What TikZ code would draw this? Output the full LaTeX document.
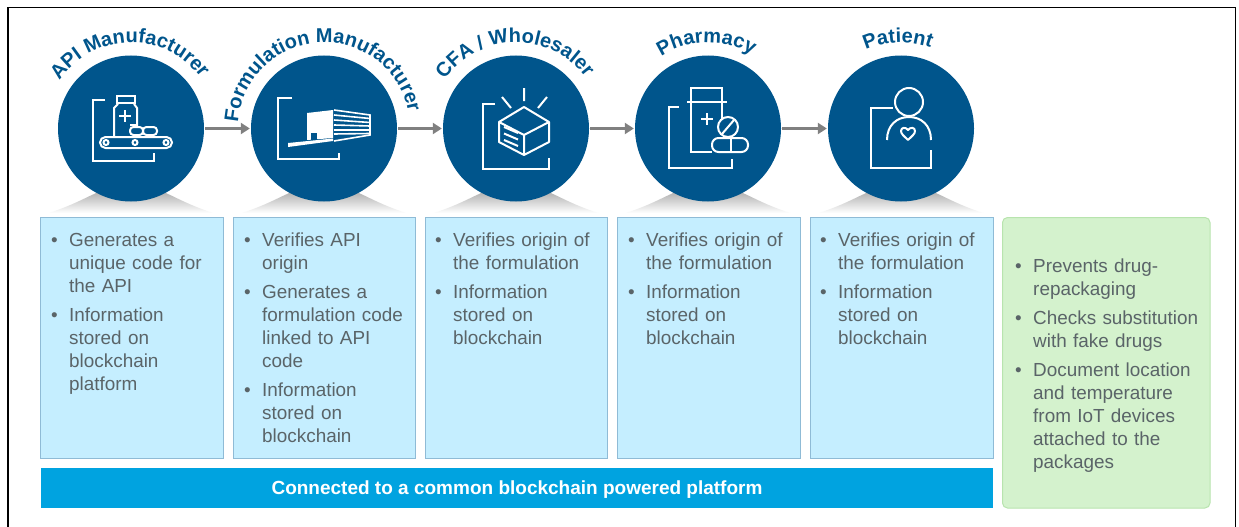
\documentclass[tikz,border=0pt]{standalone}
\usepackage{fontspec}
\setmainfont{Liberation Sans}
\usetikzlibrary{decorations.text,arrows.meta,calc}
\definecolor{navy}{HTML}{00558C}
\definecolor{boxfill}{HTML}{C5EEFF}
\definecolor{boxline}{HTML}{8FBBD6}
\definecolor{greenfill}{HTML}{D4F2CD}
\definecolor{greenline}{HTML}{B8E4AE}
\definecolor{barfill}{HTML}{00A3E0}
\definecolor{bodytext}{HTML}{5A6468}
\definecolor{arrowgray}{HTML}{808080}
\newcommand{\bitem}[1]{\par\noindent\hangindent=18pt\hangafter=1\hbox to 18pt{\textbullet\hfil}#1\par}
\newcommand{\curved}[3]{\path[decorate,decoration={text along path,text align=center,
  text={|\bfseries\fontsize{20}{20}\selectfont\color{navy}|#3}}]
  ($(#1)+(180+#2:86)$) arc[start angle=180+#2,end angle=360+#2,radius=86];}
\tikzset{
  x=1pt,y=-1pt,
  stage/.style={circle,fill=navy,minimum size=146pt,inner sep=0pt},
  flow/.style={draw=arrowgray,line width=3pt,-{Triangle[length=9pt,width=11pt]},shorten >=1pt,shorten <=1pt},
  infobox/.style={draw=boxline,fill=boxfill,line width=1pt},
  txt/.style={anchor=north west,inner sep=0pt,text=bodytext,font=\fontsize{18.9}{23}\selectfont,align=left},
  ico/.style={draw=white,line width=2pt,line join=miter},
}
\begin{document}
\begin{tikzpicture}
\useasboundingbox (0,0) rectangle (1239,527);
\fill[white] (0,0) rectangle (1239,527);
\draw[black,line width=1.6pt] (8,527) -- (8,7.5) -- (1235.5,7.5) -- (1235.5,527);
% shadows
\foreach \cx in {131,324,516,708,901}{
  \shade[top color=black!32,bottom color=white]
    (\cx-82,213) .. controls (\cx-55,204) and (\cx-45,197) .. (\cx-30,191)
    -- (\cx+30,191) .. controls (\cx+45,197) and (\cx+55,204) .. (\cx+82,213) -- cycle;
}
% circles
\node[stage] (c1) at (131,128.5) {};
\node[stage] (c2) at (324,128.5) {};
\node[stage] (c3) at (516,128.5) {};
\node[stage] (c4) at (708,128.5) {};
\node[stage] (c5) at (901,128.5) {};
\foreach \a/\b in {c1/c2,c2/c3,c3/c4,c4/c5}{ \draw[flow] (\a) -- (\b); }
% labels
\curved{c1}{-1}{API Manufacturer}
\curved{c2}{-3.5}{Formulation Manufacturer}
\curved{c3}{-1}{CFA / Wholesaler}
\curved{c4}{-1}{Pharmacy}
\curved{c5}{-2}{Patient}
% boxes
\filldraw[infobox] (40.5,217.5) rectangle (223,458) coordinate (b1);
\filldraw[infobox] (233,217.5) rectangle (415.5,458) coordinate (b2);
\filldraw[infobox] (425,217.5) rectangle (607.5,458) coordinate (b3);
\filldraw[infobox] (617.5,217.5) rectangle (800,458) coordinate (b4);
\filldraw[infobox] (810,217.5) rectangle (993,458) coordinate (b5);
\filldraw[draw=greenline,fill=greenfill,line width=1pt,rounded corners=5pt] (1002.5,217.5) rectangle (1210,508);
\node[fill=barfill,minimum width=952pt,minimum height=40pt,inner sep=0pt,text=white,font=\bfseries\fontsize{19}{20}\selectfont] (bar) at (517,488) {\raisebox{-6.5pt}[0pt][0pt]{Connected to a common blockchain powered platform}};
% body text
\node[txt,text width=170pt] (t1) at (51,217) {\parskip=6pt
\bitem{Generates a\newline unique code for\newline the API}
\bitem{Information\newline stored on\newline blockchain\newline platform}};
\node[txt,text width=170pt] (t2) at (244,217) {\parskip=6pt
\bitem{Verifies API\newline origin}
\bitem{Generates a\newline formulation code\newline linked to API\newline code}
\bitem{Information\newline stored on\newline blockchain}};
\node[txt,text width=170pt] (t3) at (435,217) {\parskip=6pt
\bitem{Verifies origin of\newline the formulation}
\bitem{Information\newline stored on\newline blockchain}};
\node[txt,text width=170pt] (t4) at (628,217) {\parskip=6pt
\bitem{Verifies origin of\newline the formulation}
\bitem{Information\newline stored on\newline blockchain}};
\node[txt,text width=170pt] (t5) at (820,217) {\parskip=6pt
\bitem{Verifies origin of\newline the formulation}
\bitem{Information\newline stored on\newline blockchain}};
\node[txt,text width=190pt] (t6) at (1015,243) {\parskip=6pt
\bitem{Prevents drug-\newline repackaging}
\bitem{Checks substitution\newline with fake drugs}
\bitem{Document location\newline and temperature\newline from IoT devices\newline attached to the\newline packages}};
% icon 1
\draw[ico] (105,100) -- (93,100) -- (93,161) -- (154,161) -- (154,153);
\draw[ico] (117,96) rectangle (135,103);
\draw[ico] (130,125) -- (137,125) -- (137,108) -- (134,104) (118,104) -- (114,108) -- (114,136);
\draw[ico] (125,110) -- (125,122) (119,116) -- (131,116);
\draw[ico,rounded corners=3.5pt] (130,127) rectangle (143,135);
\draw[ico,rounded corners=3.5pt] (143,127) rectangle (157,135);
\draw[ico,rounded corners=5.5pt] (100,137) rectangle (172,148);
\foreach \x in {106,135,166}{ \draw[ico] (\x,142.5) circle[radius=2.5pt]; }
% icon 2
\draw[ico] (292,98) -- (278,98) -- (278,159) -- (339,159) -- (339,153);
\fill[white] (307,113) -- (333,110) -- (333,138) -- (307,140) -- cycle;
\fill[navy] (311,133) rectangle (317,141);
\fill[white] (288,143) -- (333,138.5) -- (333,141) -- (288,147) -- cycle;
\draw[white,line width=1.6pt] (334,110) -- (370,115) -- (370,135) -- (334,141);
\foreach \a/\b in {115/118.5,120/122.5,125/126,130/130,134/133.5}{
  \draw[white,line width=1.6pt] (334,\a) -- (370,\b);
}
% icon 3
\draw[ico] (495,104) -- (483,104) -- (483,169) -- (549,169) -- (549,158);
\draw[ico,line join=round] (524,107) -- (549,122) -- (549,142) -- (524,155) -- (499,142) -- (499,122) -- cycle;
\draw[ico] (499,122) -- (524,135) -- (549,122) (524,135) -- (524,155);
\draw[ico] (524,88) -- (524,101) (502,97) -- (511,108) (547,97) -- (538,108);
\draw[ico] (504,127) -- (518,133) (504,133.5) -- (518,139.5) (504,140) -- (518,146);
% icon 4
\draw[ico] (679,107) -- (669,107) -- (669,168) -- (732,168) -- (732,159);
\draw[ico] (691,102) -- (691,88) -- (722,88) -- (722,102);
\draw[ico] (687,102) -- (727,102);
\draw[ico] (691,102) -- (691,152) -- (712,152) (722,102) -- (722,120);
\draw[ico] (707,113) -- (707,125) (701,119) -- (713,119);
\draw[ico] (728,127) circle[radius=10pt];
\draw[ico] (722,134) -- (734,120);
\draw[ico,rounded corners=6.5pt] (712,138) rectangle (748,152);
\draw[ico] (731,138) -- (731,152);
% icon 5
\draw[ico] (893,108) -- (871,108) -- (871,168) -- (931,168) -- (931,150);
\draw[ico] (909,102) circle[radius=14pt];
\draw[ico] (887,140) .. controls (887,125) and (897,117) .. (909,117) .. controls (921,117) and (931,125) .. (931,140);
\draw[ico,line join=round] (908,140) .. controls (904,136) and (901,134) .. (901,131) .. controls (901,127) and (906,127) .. (908,130) .. controls (910,127) and (915,127) .. (915,131) .. controls (915,134) and (912,136) .. (908,140) -- cycle;
\end{tikzpicture}
\end{document}
